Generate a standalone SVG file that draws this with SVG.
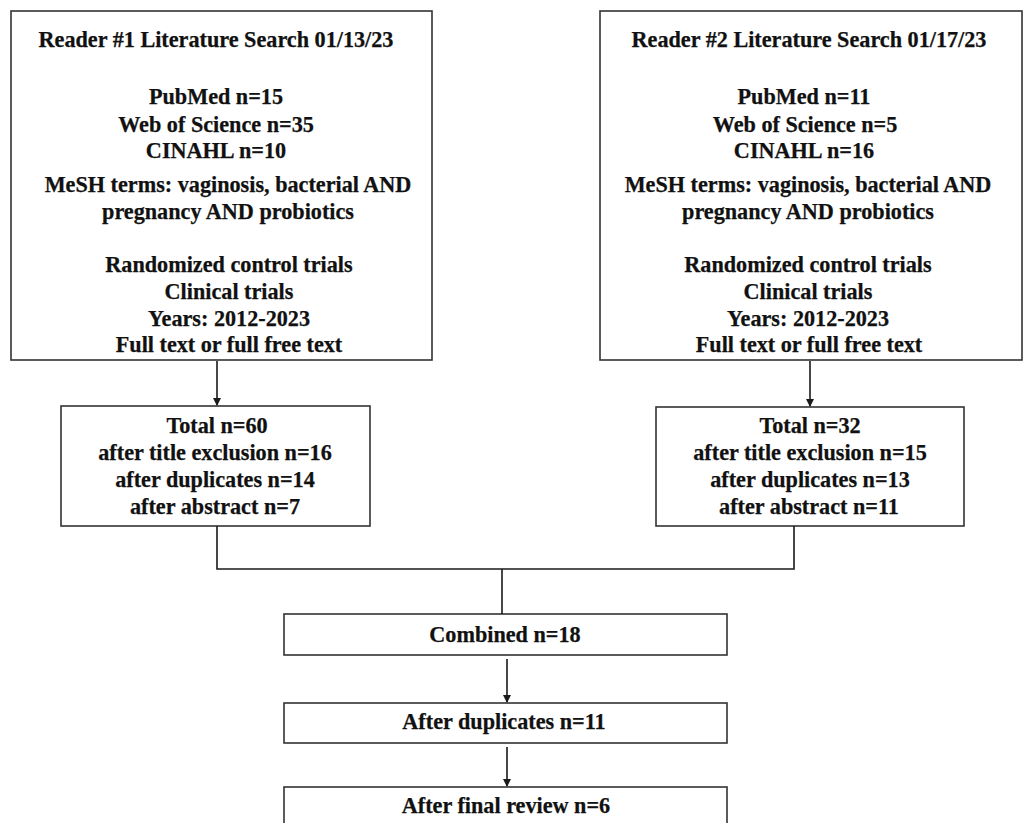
<svg xmlns="http://www.w3.org/2000/svg" width="1024" height="823" viewBox="0 0 1024 823">
<defs>
<marker id="ah" markerWidth="8" markerHeight="9" refX="7" refY="4.5" orient="auto" markerUnits="userSpaceOnUse">
<path d="M0,0.5 L8,4.5 L0,8.5 Z" fill="#1a1a1a"/>
</marker>
<style>
.box{fill:#fff;stroke:#333;stroke-width:1.6}
.t{font-family:"Liberation Serif","Times New Roman",serif;font-weight:bold;font-size:22.2px;fill:#111;stroke:#111;stroke-width:0.25;text-anchor:middle}
.c{fill:none;stroke:#1a1a1a;stroke-width:1.6}
</style>
</defs>
<rect width="1024" height="823" fill="#fff"/>
<g id="reader1">
<rect class="box" x="11" y="11" width="421" height="349"/>
<text class="t" x="216" y="47">Reader #1 Literature Search 01/13/23</text>
<text class="t" x="216" y="104">PubMed n=15</text>
<text class="t" x="216" y="132">Web of Science n=35</text>
<text class="t" x="216" y="158">CINAHL n=10</text>
<text class="t" x="228" y="192">MeSH terms: vaginosis, bacterial AND</text>
<text class="t" x="228" y="219">pregnancy AND probiotics</text>
<text class="t" x="229" y="272">Randomized control trials</text>
<text class="t" x="229" y="299">Clinical trials</text>
<text class="t" x="229" y="326">Years: 2012-2023</text>
<text class="t" x="229" y="352">Full text or full free text</text>
</g>
<g id="reader2">
<rect class="box" x="600" y="11" width="422" height="349"/>
<text class="t" x="809" y="47">Reader #2 Literature Search 01/17/23</text>
<text class="t" x="804" y="104">PubMed n=11</text>
<text class="t" x="805" y="132">Web of Science n=5</text>
<text class="t" x="804" y="158">CINAHL n=16</text>
<text class="t" x="808" y="192">MeSH terms: vaginosis, bacterial AND</text>
<text class="t" x="808" y="219">pregnancy AND probiotics</text>
<text class="t" x="808" y="272">Randomized control trials</text>
<text class="t" x="808" y="299">Clinical trials</text>
<text class="t" x="808" y="326">Years: 2012-2023</text>
<text class="t" x="809" y="352">Full text or full free text</text>
</g>
<g id="total1">
<rect class="box" x="61" y="406" width="309" height="120"/>
<text class="t" x="217" y="433">Total n=60</text>
<text class="t" x="215" y="460">after title exclusion n=16</text>
<text class="t" x="215" y="487">after duplicates n=14</text>
<text class="t" x="215" y="514">after abstract n=7</text>
</g>
<g id="total2">
<rect class="box" x="656" y="407" width="308" height="119"/>
<text class="t" x="810" y="433">Total n=32</text>
<text class="t" x="810" y="460">after title exclusion n=15</text>
<text class="t" x="810" y="487">after duplicates n=13</text>
<text class="t" x="809" y="514">after abstract n=11</text>
</g>
<g id="combined">
<rect class="box" x="284" y="614" width="443" height="41"/>
<text class="t" x="505" y="642">Combined n=18</text>
</g>
<g id="afterdup">
<rect class="box" x="284" y="703" width="443" height="40"/>
<text class="t" x="504" y="729">After duplicates n=11</text>
</g>
<g id="final">
<rect class="box" x="284" y="787" width="443" height="50"/>
<text class="t" x="506" y="813">After final review n=6</text>
</g>
<g id="connectors">
<line class="c" x1="217" y1="361" x2="217" y2="405" marker-end="url(#ah)"/>
<line class="c" x1="810" y1="361" x2="810" y2="406" marker-end="url(#ah)"/>
<polyline class="c" points="217,526 217,569 794,569 794,526"/>
<line class="c" x1="502" y1="569" x2="502" y2="614"/>
<line class="c" x1="507" y1="659" x2="507" y2="702" marker-end="url(#ah)"/>
<line class="c" x1="507" y1="747" x2="507" y2="786" marker-end="url(#ah)"/>
</g>
</svg>
